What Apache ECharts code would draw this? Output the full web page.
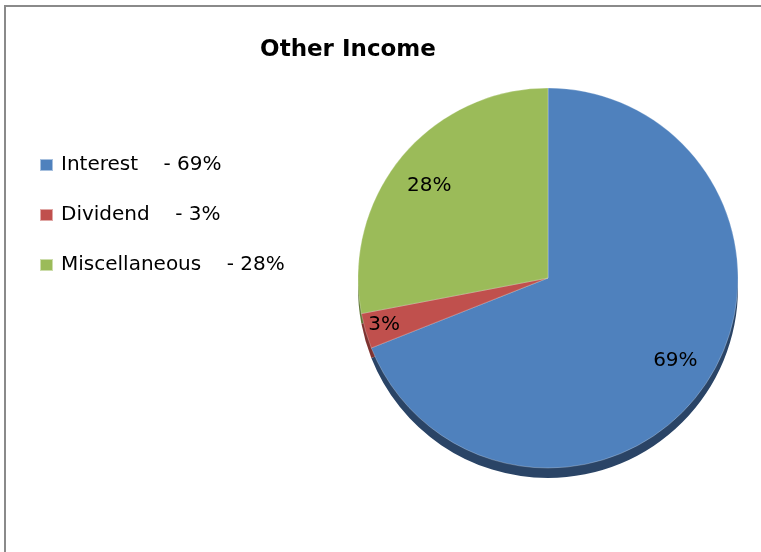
<!DOCTYPE html>
<html><head><meta charset="utf-8">
<script src="https://cdn.jsdelivr.net/npm/echarts@6/dist/echarts.min.js"></script>
<style>html,body{margin:0;padding:0;background:#fff}#c{width:761px;height:552px}</style>
</head><body><div id="c"></div>
<script>
const categories = ['Interest', 'Dividend', 'Miscellaneous'];
const values = [69, 3, 28];
const colors = ['#4F81BD', '#C0504D', '#9BBB59'];
const edgeColors = ['#2A4466', '#7E3331', '#5E7536'];
const titleText = 'Other Income';

const chart = echarts.init(document.getElementById('c'));
const font = '"DejaVu Sans", "Liberation Sans", sans-serif';
const center = [548, 278];
const R = 190;

const mainData = categories.map((n, i) => ({ name: n, value: values[i], itemStyle: { color: colors[i] } }));
const edgeData = categories.map((n, i) => ({ name: n + ' ', value: values[i], itemStyle: { color: edgeColors[i] } }));
const labelData = categories.map((n, i) => ({
  name: n + '  ', value: values[i],
  label: i === 1 ? { offset: [-16, 4] } : (i === 2 ? { offset: [0, 6] } : { offset: [0, -4] })
}));

chart.setOption({
  animation: false,
  title: {
    text: titleText, left: 343, top: 34, textAlign: 'center',
    textStyle: { fontFamily: font, fontWeight: 'bold', fontSize: 23, color: '#000' }
  },
  legend: {
    orient: 'vertical', left: 34, top: 150, itemGap: 30,
    icon: 'rect', itemWidth: 13, itemHeight: 12,
    data: categories,
    formatter: name => name + '    - ' + values[categories.indexOf(name)] + '%',
    textStyle: { fontFamily: font, fontSize: 20, color: '#000', padding: [0, 0, 0, 3] },
    selectedMode: false
  },
  graphic: [{
    type: 'rect', shape: { x: 5, y: 6, width: 800, height: 600 },
    style: { fill: 'none', stroke: '#8a8a8a', lineWidth: 2 }, silent: true, z: -1
  }],
  series: [
    {
      type: 'pie', center: [center[0], center[1] + 10], radius: [0, R],
      startAngle: 90, clockwise: true, silent: true, z: 1,
      data: edgeData, label: { show: false }, labelLine: { show: false }
    },
    {
      type: 'pie', center: center, radius: [0, R],
      startAngle: 90, clockwise: true, silent: true, z: 2,
      data: mainData, label: { show: false }, labelLine: { show: false },
      itemStyle: { borderWidth: 0.5, borderColor: 'rgba(255,255,255,0.5)' }
    },
    {
      type: 'pie', center: center, radius: [112, 190],
      startAngle: 90, clockwise: true, silent: true, z: 3,
      data: labelData,
      itemStyle: { color: 'rgba(0,0,0,0)' },
      label: {
        show: true, position: 'inside', formatter: '{c}%',
        fontFamily: font, fontSize: 20, color: '#000'
      },
      labelLine: { show: false }
    }
  ]
});
</script></body></html>
